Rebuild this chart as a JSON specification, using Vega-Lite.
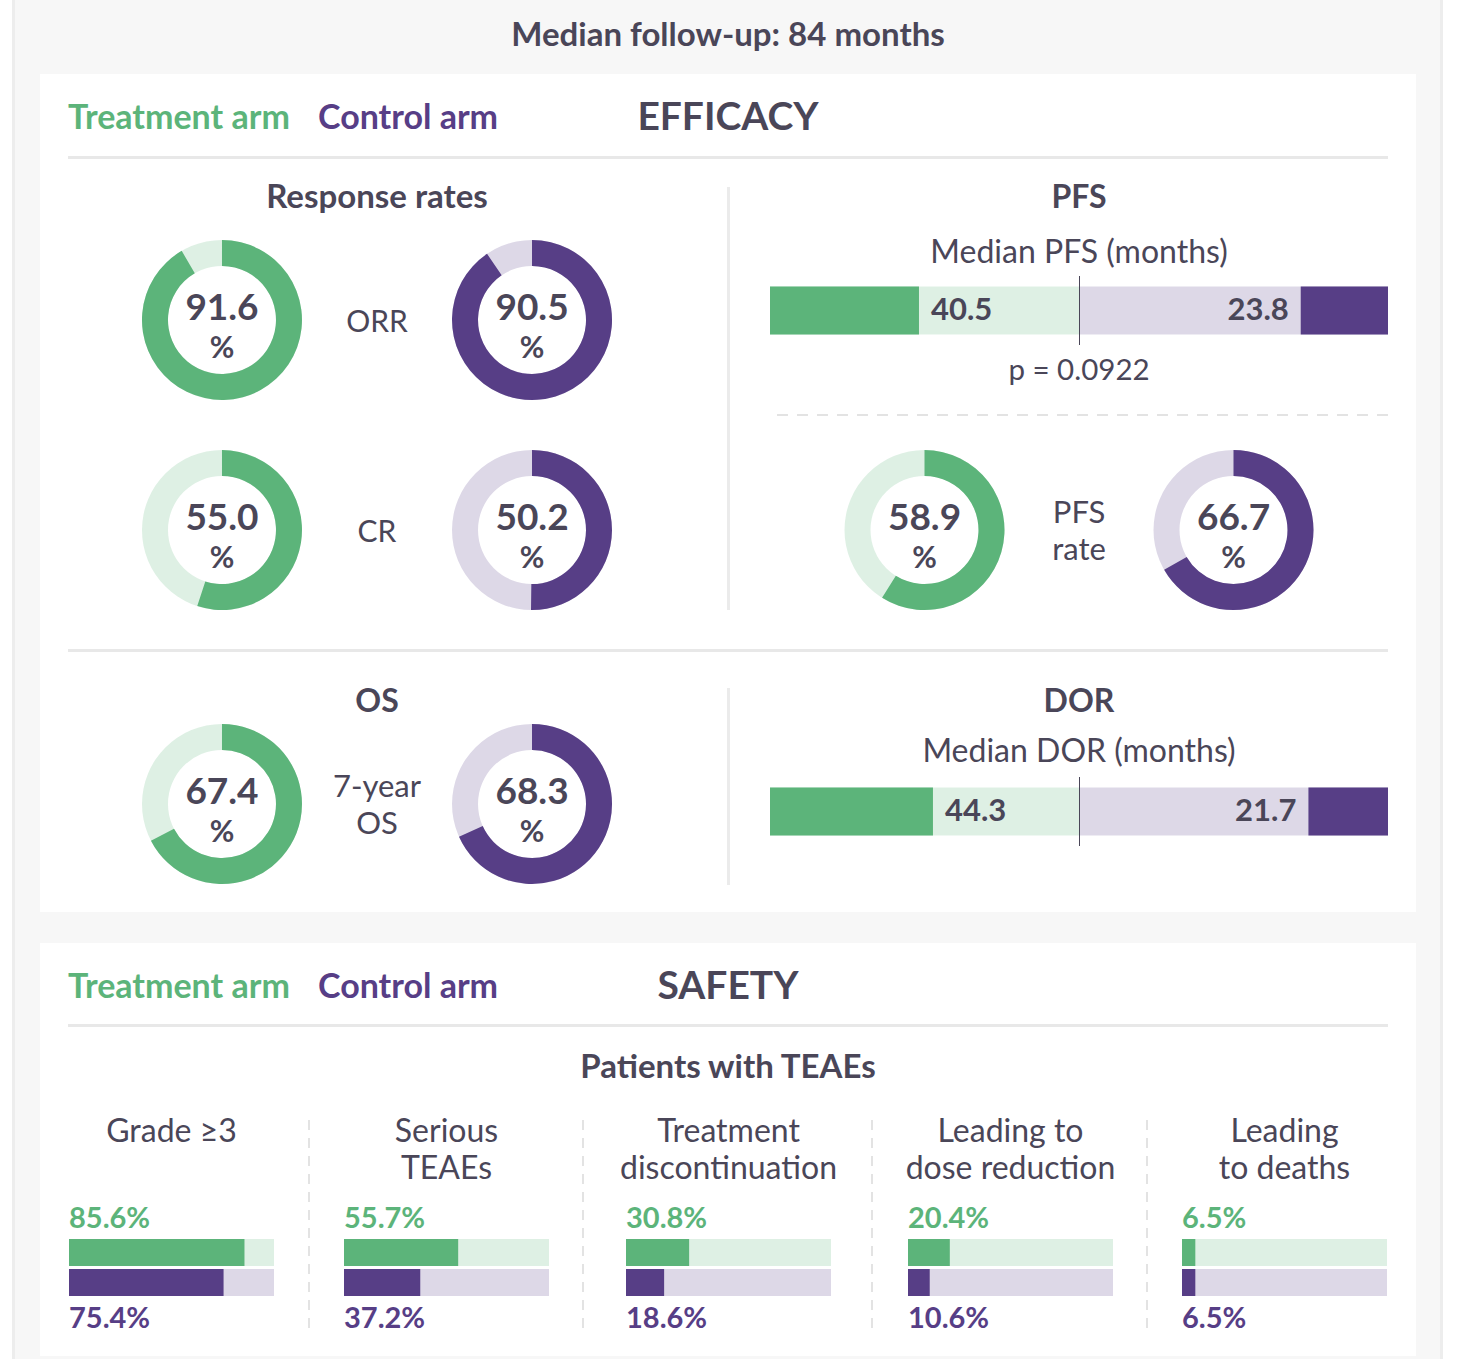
{
  "$schema": "https://vega.github.io/schema/vega-lite/v6.json",
  "background": "white",
  "padding": {"left": 12, "right": 19, "top": 0, "bottom": 0},
  "config": {
    "font": "Lato",
    "view": {"stroke": null},
    "text": {"color": "#4a4658", "fontSize": 32}
  },
  "spacing": 0,
  "hconcat": [
    {"width": 3, "height": 1359, "view": {"fill": "#ededed"}, "data": {"values": [{"part": "frame edge"}]}, "mark": {"type": "rect", "color": "#ededed"}},
    {"width": 25, "height": 1359, "view": {"fill": "#f7f7f7"}, "data": {"values": [{"part": "frame"}]}, "mark": {"type": "rect", "color": "#f7f7f7"}},
    {"spacing": 0, "vconcat": [
      {"width": 1376, "height": 74, "view": {"fill": "#f7f7f7"}, "data": {"values": [{"headline": "Median follow-up: 84 months"}]}, "mark": {"type": "text", "fontSize": 33, "fontWeight": "bold", "dy": -1}, "encoding": {"text": {"field": "headline"}}},
      {"spacing": 0, "vconcat": [
        {"width": 1376, "height": 82, "layer": [
          {"data": {"values": [{"arm": "Treatment arm"}, {"arm": "Control arm"}]},
           "mark": {"type": "text", "align": "left", "fontSize": 34, "fontWeight": "bold", "dy": 4},
           "encoding": {
             "x": {"field": "arm", "type": "nominal", "scale": {"type": "point", "domain": ["Treatment arm", "Control arm"], "range": [28, 278], "padding": 0}, "axis": null},
             "text": {"field": "arm"},
             "color": {"field": "arm", "type": "nominal", "scale": {"domain": ["Treatment arm", "Control arm"], "range": ["#5cb47a", "#573e86"]}, "legend": null}}},
          {"data": {"values": [{"section": "EFFICACY"}]}, "mark": {"type": "text", "fontSize": 39, "fontWeight": "bold", "dy": 3}, "encoding": {"text": {"field": "section"}}}
        ]},
        {"width": 1376, "height": 3, "data": {"values": [{"divider": "efficacy header"}]}, "mark": {"type": "rect", "color": "#e8e8e8"}, "encoding": {"x": {"field": "divider", "type": "nominal", "scale": {"type": "band", "range": [28, 1348], "paddingInner": 0, "paddingOuter": 0}, "axis": null}}},
        {"spacing": 40, "hconcat": [
          {"spacing": 13, "hconcat": [
            {"spacing": 0, "vconcat": [
              {"width": 674, "height": 78, "data": {"values": [{"panel": "Response rates"}]}, "mark": {"type": "text", "fontSize": 33, "fontWeight": "bold"}, "encoding": {"text": {"field": "panel"}}},
              {"width": 674, "height": 376,
               "data": {"values": [
                 {"measure": "ORR", "arm": "Treatment arm", "pct": 91.6},
                 {"measure": "ORR", "arm": "Control arm", "pct": 90.5},
                 {"measure": "CR", "arm": "Treatment arm", "pct": 55.0},
                 {"measure": "CR", "arm": "Control arm", "pct": 50.2}]},
               "layer": [
                 {"mark": {"type": "arc", "radius": 80, "radius2": 54, "theta": 0, "theta2": 6.2832, "opacity": 0.2},
                  "encoding": {
                    "x": {"field": "arm", "type": "nominal", "scale": {"type": "point", "domain": ["Treatment arm", "Control arm"], "padding": 0.587}, "axis": null},
                    "y": {"field": "measure", "type": "nominal", "scale": {"type": "point", "domain": ["ORR", "CR"], "padding": 0.395}, "axis": null},
                    "color": {"field": "arm", "type": "nominal", "scale": {"domain": ["Treatment arm", "Control arm"], "range": ["#5cb47a", "#573e86"]}, "legend": null}}},
                 {"mark": {"type": "arc", "radius": 80, "radius2": 54},
                  "encoding": {
                    "x": {"field": "arm", "type": "nominal"},
                    "y": {"field": "measure", "type": "nominal"},
                    "color": {"field": "arm", "type": "nominal", "scale": {"domain": ["Treatment arm", "Control arm"], "range": ["#5cb47a", "#573e86"]}, "legend": null},
                    "theta": {"field": "pct", "type": "quantitative", "stack": null, "scale": {"domain": [0, 100]}},
                    "theta2": {"datum": 0}}},
                 {"mark": {"type": "text", "fontSize": 37, "fontWeight": "bold", "dy": -11.1},
                  "encoding": {"x": {"field": "arm", "type": "nominal"}, "y": {"field": "measure", "type": "nominal"}, "text": {"field": "pct", "type": "quantitative", "format": ".1f"}}},
                 {"mark": {"type": "text", "fontSize": 30, "fontWeight": "bold", "dy": 29},
                  "encoding": {"x": {"field": "arm", "type": "nominal"}, "y": {"field": "measure", "type": "nominal"}, "text": {"value": "%"}}},
                 {"data": {"values": [{"measure": "ORR", "label": "ORR"}, {"measure": "CR", "label": "CR"}]},
                  "mark": {"type": "text", "fontSize": 30, "dy": 3},
                  "encoding": {"y": {"field": "measure", "type": "nominal"}, "text": {"field": "label"}}}
               ]}
            ]},
            {"spacing": 0, "vconcat": [
              {"width": 3, "height": 28, "data": {"values": [{"part": "spacer"}]}, "mark": {"type": "rect", "opacity": 0}},
              {"width": 3, "height": 423, "view": {"fill": "#ebebeb"}, "data": {"values": [{"divider": "efficacy columns top"}]}, "mark": {"type": "rect", "color": "#ebebeb"}}
            ]}
          ]},
          {"spacing": 0, "vconcat": [
            {"width": 618, "height": 74, "data": {"values": [{"panel": "PFS"}]}, "mark": {"type": "text", "fontSize": 32, "fontWeight": "bold", "dy": 2}, "encoding": {"text": {"field": "panel"}}},
            {"width": 618, "height": 43, "data": {"values": [{"caption": "Median PFS (months)"}]}, "mark": {"type": "text", "fontSize": 32, "dy": -1.5}, "encoding": {"text": {"field": "caption"}}},
            {"spacing": 0, "hconcat": [
              {"width": 309, "height": 69,
               "data": {"values": [{"endpoint": "PFS", "arm": "Treatment arm", "median": 40.5, "followup": 84}]},
               "layer": [
                 {"mark": {"type": "bar", "opacity": 0.2},
                  "encoding": {
                    "x": {"field": "followup", "type": "quantitative", "scale": {"domain": [0, 84], "nice": false}, "axis": null},
                    "y": {"field": "endpoint", "type": "nominal", "scale": {"type": "band", "paddingInner": 0, "paddingOuter": 0.21875}, "axis": null},
                    "color": {"field": "arm", "type": "nominal", "scale": {"domain": ["Treatment arm", "Control arm"], "range": ["#5cb47a", "#573e86"]}, "legend": null}}},
                 {"mark": {"type": "bar"},
                  "encoding": {"x": {"field": "median", "type": "quantitative"}, "y": {"field": "endpoint", "type": "nominal"},
                    "color": {"field": "arm", "type": "nominal", "scale": {"domain": ["Treatment arm", "Control arm"], "range": ["#5cb47a", "#573e86"]}, "legend": null}}},
                 {"mark": {"type": "text", "align": "left", "dx": 12, "fontSize": 31, "fontWeight": "bold"},
                  "encoding": {"x": {"field": "median", "type": "quantitative"}, "y": {"field": "endpoint", "type": "nominal"}, "text": {"field": "median", "type": "quantitative", "format": ".1f"}}}
               ]},
              {"width": 1, "height": 69, "data": {"values": [{"marker": "PFS follow-up split"}]}, "mark": {"type": "rect", "color": "#4a4658"}},
              {"width": 308, "height": 69,
               "data": {"values": [{"endpoint": "PFS", "arm": "Control arm", "median": 23.8, "followup": 84}]},
               "layer": [
                 {"mark": {"type": "bar", "opacity": 0.2},
                  "encoding": {
                    "x": {"field": "followup", "type": "quantitative", "scale": {"domain": [0, 84], "nice": false, "reverse": true}, "axis": null},
                    "y": {"field": "endpoint", "type": "nominal", "scale": {"type": "band", "paddingInner": 0, "paddingOuter": 0.21875}, "axis": null},
                    "color": {"field": "arm", "type": "nominal", "scale": {"domain": ["Treatment arm", "Control arm"], "range": ["#5cb47a", "#573e86"]}, "legend": null}}},
                 {"mark": {"type": "bar"},
                  "encoding": {"x": {"field": "median", "type": "quantitative"}, "y": {"field": "endpoint", "type": "nominal"},
                    "color": {"field": "arm", "type": "nominal", "scale": {"domain": ["Treatment arm", "Control arm"], "range": ["#5cb47a", "#573e86"]}, "legend": null}}},
                 {"mark": {"type": "text", "align": "right", "dx": -12, "fontSize": 31, "fontWeight": "bold"},
                  "encoding": {"x": {"field": "median", "type": "quantitative"}, "y": {"field": "endpoint", "type": "nominal"}, "text": {"field": "median", "type": "quantitative", "format": ".1f"}}}
               ]}
            ]},
            {"width": 618, "height": 52, "data": {"values": [{"note": "p = 0.0922"}]}, "mark": {"type": "text", "fontSize": 29.5}, "encoding": {"text": {"field": "note"}}},
            {"width": 618, "height": 36, "data": {"values": [{"divider": "PFS rate"}]}, "mark": {"type": "rule", "color": "#e3e3e3", "strokeWidth": 2, "strokeDash": [11, 9], "clip": true}, "encoding": {"y": {"field": "divider", "type": "nominal", "scale": {"type": "point"}, "axis": null}}},
            {"width": 618, "height": 194,
             "data": {"values": [
               {"measure": "PFS rate", "arm": "Treatment arm", "pct": 58.9},
               {"measure": "PFS rate", "arm": "Control arm", "pct": 66.7}]},
             "layer": [
               {"mark": {"type": "arc", "radius": 80, "radius2": 54, "theta": 0, "theta2": 6.2832, "opacity": 0.2},
                "encoding": {
                  "x": {"field": "arm", "type": "nominal", "scale": {"type": "point", "domain": ["Treatment arm", "Control arm"], "padding": 0.5}, "axis": null},
                  "color": {"field": "arm", "type": "nominal", "scale": {"domain": ["Treatment arm", "Control arm"], "range": ["#5cb47a", "#573e86"]}, "legend": null}}},
               {"mark": {"type": "arc", "radius": 80, "radius2": 54},
                "encoding": {
                  "x": {"field": "arm", "type": "nominal"},
                  "color": {"field": "arm", "type": "nominal", "scale": {"domain": ["Treatment arm", "Control arm"], "range": ["#5cb47a", "#573e86"]}, "legend": null},
                  "theta": {"field": "pct", "type": "quantitative", "stack": null, "scale": {"domain": [0, 100]}},
                  "theta2": {"datum": 0}}},
               {"mark": {"type": "text", "fontSize": 37, "fontWeight": "bold", "dy": -11.1},
                "encoding": {"x": {"field": "arm", "type": "nominal"}, "text": {"field": "pct", "type": "quantitative", "format": ".1f"}}},
               {"mark": {"type": "text", "fontSize": 30, "fontWeight": "bold", "dy": 29},
                "encoding": {"x": {"field": "arm", "type": "nominal"}, "text": {"value": "%"}}},
               {"data": {"values": [{"label": "PFS\nrate"}]},
                "mark": {"type": "text", "fontSize": 31, "lineBreak": "\n", "lineHeight": 37, "dy": -16.5},
                "encoding": {"text": {"field": "label"}}}
             ]}
          ]}
        ]},
        {"width": 1, "height": 22, "data": {"values": [{"part": "spacer"}]}, "mark": {"type": "rect", "opacity": 0}},
        {"width": 1376, "height": 3, "data": {"values": [{"divider": "efficacy rows"}]}, "mark": {"type": "rect", "color": "#e8e8e8"}, "encoding": {"x": {"field": "divider", "type": "nominal", "scale": {"type": "band", "range": [28, 1348], "paddingInner": 0, "paddingOuter": 0}, "axis": null}}},
        {"spacing": 40, "hconcat": [
          {"spacing": 13, "hconcat": [
            {"spacing": 0, "vconcat": [
              {"width": 674, "height": 72, "data": {"values": [{"panel": "OS"}]}, "mark": {"type": "text", "fontSize": 32, "fontWeight": "bold", "dy": 14}, "encoding": {"text": {"field": "panel"}}},
              {"width": 674, "height": 160,
               "data": {"values": [
                 {"measure": "7-year OS", "arm": "Treatment arm", "pct": 67.4},
                 {"measure": "7-year OS", "arm": "Control arm", "pct": 68.3}]},
               "layer": [
                 {"mark": {"type": "arc", "radius": 80, "radius2": 54, "theta": 0, "theta2": 6.2832, "opacity": 0.2},
                  "encoding": {
                    "x": {"field": "arm", "type": "nominal", "scale": {"type": "point", "domain": ["Treatment arm", "Control arm"], "padding": 0.587}, "axis": null},
                    "color": {"field": "arm", "type": "nominal", "scale": {"domain": ["Treatment arm", "Control arm"], "range": ["#5cb47a", "#573e86"]}, "legend": null}}},
                 {"mark": {"type": "arc", "radius": 80, "radius2": 54},
                  "encoding": {
                    "x": {"field": "arm", "type": "nominal"},
                    "color": {"field": "arm", "type": "nominal", "scale": {"domain": ["Treatment arm", "Control arm"], "range": ["#5cb47a", "#573e86"]}, "legend": null},
                    "theta": {"field": "pct", "type": "quantitative", "stack": null, "scale": {"domain": [0, 100]}},
                    "theta2": {"datum": 0}}},
                 {"mark": {"type": "text", "fontSize": 37, "fontWeight": "bold", "dy": -11.1},
                  "encoding": {"x": {"field": "arm", "type": "nominal"}, "text": {"field": "pct", "type": "quantitative", "format": ".1f"}}},
                 {"mark": {"type": "text", "fontSize": 30, "fontWeight": "bold", "dy": 29},
                  "encoding": {"x": {"field": "arm", "type": "nominal"}, "text": {"value": "%"}}},
                 {"data": {"values": [{"label": "7-year\nOS"}]},
                  "mark": {"type": "text", "fontSize": 31, "lineBreak": "\n", "lineHeight": 37, "dy": -16.5},
                  "encoding": {"text": {"field": "label"}}}
               ]}
            ]},
            {"spacing": 0, "vconcat": [
              {"width": 3, "height": 36, "data": {"values": [{"part": "spacer"}]}, "mark": {"type": "rect", "opacity": 0}},
              {"width": 3, "height": 197, "view": {"fill": "#ebebeb"}, "data": {"values": [{"divider": "efficacy columns bottom"}]}, "mark": {"type": "rect", "color": "#ebebeb"}}
            ]}
          ]},
          {"spacing": 0, "vconcat": [
            {"width": 618, "height": 74, "data": {"values": [{"panel": "DOR"}]}, "mark": {"type": "text", "fontSize": 32, "fontWeight": "bold", "dy": 13}, "encoding": {"text": {"field": "panel"}}},
            {"width": 618, "height": 51, "data": {"values": [{"caption": "Median DOR (months)"}]}, "mark": {"type": "text", "fontSize": 32, "dy": 0.5}, "encoding": {"text": {"field": "caption"}}},
            {"spacing": 0, "hconcat": [
              {"width": 309, "height": 69,
               "data": {"values": [{"endpoint": "DOR", "arm": "Treatment arm", "median": 44.3, "followup": 84}]},
               "layer": [
                 {"mark": {"type": "bar", "opacity": 0.2},
                  "encoding": {
                    "x": {"field": "followup", "type": "quantitative", "scale": {"domain": [0, 84], "nice": false}, "axis": null},
                    "y": {"field": "endpoint", "type": "nominal", "scale": {"type": "band", "paddingInner": 0, "paddingOuter": 0.21875}, "axis": null},
                    "color": {"field": "arm", "type": "nominal", "scale": {"domain": ["Treatment arm", "Control arm"], "range": ["#5cb47a", "#573e86"]}, "legend": null}}},
                 {"mark": {"type": "bar"},
                  "encoding": {"x": {"field": "median", "type": "quantitative"}, "y": {"field": "endpoint", "type": "nominal"},
                    "color": {"field": "arm", "type": "nominal", "scale": {"domain": ["Treatment arm", "Control arm"], "range": ["#5cb47a", "#573e86"]}, "legend": null}}},
                 {"mark": {"type": "text", "align": "left", "dx": 12, "fontSize": 31, "fontWeight": "bold"},
                  "encoding": {"x": {"field": "median", "type": "quantitative"}, "y": {"field": "endpoint", "type": "nominal"}, "text": {"field": "median", "type": "quantitative", "format": ".1f"}}}
               ]},
              {"width": 1, "height": 69, "data": {"values": [{"marker": "DOR follow-up split"}]}, "mark": {"type": "rect", "color": "#4a4658"}},
              {"width": 308, "height": 69,
               "data": {"values": [{"endpoint": "DOR", "arm": "Control arm", "median": 21.7, "followup": 84}]},
               "layer": [
                 {"mark": {"type": "bar", "opacity": 0.2},
                  "encoding": {
                    "x": {"field": "followup", "type": "quantitative", "scale": {"domain": [0, 84], "nice": false, "reverse": true}, "axis": null},
                    "y": {"field": "endpoint", "type": "nominal", "scale": {"type": "band", "paddingInner": 0, "paddingOuter": 0.21875}, "axis": null},
                    "color": {"field": "arm", "type": "nominal", "scale": {"domain": ["Treatment arm", "Control arm"], "range": ["#5cb47a", "#573e86"]}, "legend": null}}},
                 {"mark": {"type": "bar"},
                  "encoding": {"x": {"field": "median", "type": "quantitative"}, "y": {"field": "endpoint", "type": "nominal"},
                    "color": {"field": "arm", "type": "nominal", "scale": {"domain": ["Treatment arm", "Control arm"], "range": ["#5cb47a", "#573e86"]}, "legend": null}}},
                 {"mark": {"type": "text", "align": "right", "dx": -12, "fontSize": 31, "fontWeight": "bold"},
                  "encoding": {"x": {"field": "median", "type": "quantitative"}, "y": {"field": "endpoint", "type": "nominal"}, "text": {"field": "median", "type": "quantitative", "format": ".1f"}}}
               ]}
            ]}
          ]}
        ]},
        {"width": 1, "height": 27, "data": {"values": [{"part": "spacer"}]}, "mark": {"type": "rect", "opacity": 0}}
      ]},
      {"width": 1376, "height": 31, "view": {"fill": "#f7f7f7"}, "data": {"values": [{"part": "gap"}]}, "mark": {"type": "rect", "color": "#f7f7f7"}},
      {"spacing": 0, "vconcat": [
        {"width": 1376, "height": 81, "layer": [
          {"data": {"values": [{"arm": "Treatment arm"}, {"arm": "Control arm"}]},
           "mark": {"type": "text", "align": "left", "fontSize": 34, "fontWeight": "bold", "dy": 4},
           "encoding": {
             "x": {"field": "arm", "type": "nominal", "scale": {"type": "point", "domain": ["Treatment arm", "Control arm"], "range": [28, 278], "padding": 0}, "axis": null},
             "text": {"field": "arm"},
             "color": {"field": "arm", "type": "nominal", "scale": {"domain": ["Treatment arm", "Control arm"], "range": ["#5cb47a", "#573e86"]}, "legend": null}}},
          {"data": {"values": [{"section": "SAFETY"}]}, "mark": {"type": "text", "fontSize": 39, "fontWeight": "bold", "dy": 3}, "encoding": {"text": {"field": "section"}}}
        ]},
        {"width": 1376, "height": 3, "data": {"values": [{"divider": "safety header"}]}, "mark": {"type": "rect", "color": "#e8e8e8"}, "encoding": {"x": {"field": "divider", "type": "nominal", "scale": {"type": "band", "range": [28, 1348], "paddingInner": 0, "paddingOuter": 0}, "axis": null}}},
        {"width": 1376, "height": 78, "data": {"values": [{"panel": "Patients with TEAEs"}]}, "mark": {"type": "text", "fontSize": 33, "fontWeight": "bold", "dy": 2}, "encoding": {"text": {"field": "panel"}}},
        {"spacing": 0, "hconcat": [
          {"spacing": 0, "vconcat": [
            {"width": 268, "height": 98, "data": {"values": [{"event": "Grade ≥3"}]},
             "mark": {"type": "text", "baseline": "top", "fontSize": 32, "lineBreak": "\n", "lineHeight": 37, "dy": -37},
             "encoding": {"x": {"datum": 0.5, "type": "quantitative", "scale": {"domain": [0, 1], "range": [29, 234], "nice": false}, "axis": null}, "text": {"field": "event"}}},
            {"width": 268, "height": 153,
             "data": {"values": [{"event": "Grade ≥3", "arm": "Treatment arm", "rate": 0.856}, {"event": "Grade ≥3", "arm": "Control arm", "rate": 0.754}]},
             "layer": [
               {"mark": {"type": "rect", "opacity": 0.2},
                "encoding": {"x": {"datum": 0, "type": "quantitative", "scale": {"domain": [0, 1], "range": [29, 234], "nice": false}, "axis": null}, "x2": {"datum": 1},
                  "y": {"field": "arm", "type": "nominal", "scale": {"type": "band", "domain": ["Treatment arm", "Control arm"], "range": [36, 93], "paddingInner": 0.1, "paddingOuter": 0}, "axis": null},
                  "color": {"field": "arm", "type": "nominal", "scale": {"domain": ["Treatment arm", "Control arm"], "range": ["#5cb47a", "#573e86"]}, "legend": null}}},
               {"mark": {"type": "bar"},
                "encoding": {"x": {"field": "rate", "type": "quantitative"}, "y": {"field": "arm", "type": "nominal"},
                  "color": {"field": "arm", "type": "nominal", "scale": {"domain": ["Treatment arm", "Control arm"], "range": ["#5cb47a", "#573e86"]}, "legend": null}}},
               {"transform": [{"filter": "datum.arm === 'Treatment arm'"}],
                "mark": {"type": "text", "align": "left", "fontSize": 29, "fontWeight": "bold", "dy": -20},
                "encoding": {"x": {"datum": 0, "type": "quantitative"}, "y": {"field": "arm", "type": "nominal", "bandPosition": 0}, "text": {"field": "rate", "type": "quantitative", "format": ".1%"},
                  "color": {"field": "arm", "type": "nominal", "scale": {"domain": ["Treatment arm", "Control arm"], "range": ["#5cb47a", "#573e86"]}, "legend": null}}},
               {"transform": [{"filter": "datum.arm === 'Control arm'"}],
                "mark": {"type": "text", "align": "left", "fontSize": 29, "fontWeight": "bold", "dy": 23},
                "encoding": {"x": {"datum": 0, "type": "quantitative"}, "y": {"field": "arm", "type": "nominal", "bandPosition": 1}, "text": {"field": "rate", "type": "quantitative", "format": ".1%"},
                  "color": {"field": "arm", "type": "nominal", "scale": {"domain": ["Treatment arm", "Control arm"], "range": ["#5cb47a", "#573e86"]}, "legend": null}}}
             ]}
          ]},
          {"spacing": 0, "vconcat": [
            {"width": 2, "height": 15, "data": {"values": [{"part": "spacer"}]}, "mark": {"type": "rect", "opacity": 0}},
            {"width": 2, "height": 208, "data": {"values": [{"divider": "safety column 1"}]}, "mark": {"type": "rule", "color": "#e3e3e3", "strokeWidth": 2, "strokeDash": [10, 8], "clip": true}, "encoding": {"x": {"field": "divider", "type": "nominal", "scale": {"type": "point"}, "axis": null}}}
          ]},
          {"spacing": 0, "vconcat": [
            {"width": 272, "height": 98, "data": {"values": [{"event": "Serious\nTEAEs"}]},
             "mark": {"type": "text", "baseline": "top", "fontSize": 32, "lineBreak": "\n", "lineHeight": 37, "dy": -37},
             "encoding": {"x": {"datum": 0.5, "type": "quantitative", "scale": {"domain": [0, 1], "range": [34, 239], "nice": false}, "axis": null}, "text": {"field": "event"}}},
            {"width": 272, "height": 153,
             "data": {"values": [{"event": "Serious TEAEs", "arm": "Treatment arm", "rate": 0.557}, {"event": "Serious TEAEs", "arm": "Control arm", "rate": 0.372}]},
             "layer": [
               {"mark": {"type": "rect", "opacity": 0.2},
                "encoding": {"x": {"datum": 0, "type": "quantitative", "scale": {"domain": [0, 1], "range": [34, 239], "nice": false}, "axis": null}, "x2": {"datum": 1},
                  "y": {"field": "arm", "type": "nominal", "scale": {"type": "band", "domain": ["Treatment arm", "Control arm"], "range": [36, 93], "paddingInner": 0.1, "paddingOuter": 0}, "axis": null},
                  "color": {"field": "arm", "type": "nominal", "scale": {"domain": ["Treatment arm", "Control arm"], "range": ["#5cb47a", "#573e86"]}, "legend": null}}},
               {"mark": {"type": "bar"},
                "encoding": {"x": {"field": "rate", "type": "quantitative"}, "y": {"field": "arm", "type": "nominal"},
                  "color": {"field": "arm", "type": "nominal", "scale": {"domain": ["Treatment arm", "Control arm"], "range": ["#5cb47a", "#573e86"]}, "legend": null}}},
               {"transform": [{"filter": "datum.arm === 'Treatment arm'"}],
                "mark": {"type": "text", "align": "left", "fontSize": 29, "fontWeight": "bold", "dy": -20},
                "encoding": {"x": {"datum": 0, "type": "quantitative"}, "y": {"field": "arm", "type": "nominal", "bandPosition": 0}, "text": {"field": "rate", "type": "quantitative", "format": ".1%"},
                  "color": {"field": "arm", "type": "nominal", "scale": {"domain": ["Treatment arm", "Control arm"], "range": ["#5cb47a", "#573e86"]}, "legend": null}}},
               {"transform": [{"filter": "datum.arm === 'Control arm'"}],
                "mark": {"type": "text", "align": "left", "fontSize": 29, "fontWeight": "bold", "dy": 23},
                "encoding": {"x": {"datum": 0, "type": "quantitative"}, "y": {"field": "arm", "type": "nominal", "bandPosition": 1}, "text": {"field": "rate", "type": "quantitative", "format": ".1%"},
                  "color": {"field": "arm", "type": "nominal", "scale": {"domain": ["Treatment arm", "Control arm"], "range": ["#5cb47a", "#573e86"]}, "legend": null}}}
             ]}
          ]},
          {"spacing": 0, "vconcat": [
            {"width": 2, "height": 15, "data": {"values": [{"part": "spacer"}]}, "mark": {"type": "rect", "opacity": 0}},
            {"width": 2, "height": 208, "data": {"values": [{"divider": "safety column 2"}]}, "mark": {"type": "rule", "color": "#e3e3e3", "strokeWidth": 2, "strokeDash": [10, 8], "clip": true}, "encoding": {"x": {"field": "divider", "type": "nominal", "scale": {"type": "point"}, "axis": null}}}
          ]},
          {"spacing": 0, "vconcat": [
            {"width": 287, "height": 98, "data": {"values": [{"event": "Treatment\ndiscontinuation"}]},
             "mark": {"type": "text", "baseline": "top", "fontSize": 32, "lineBreak": "\n", "lineHeight": 37, "dy": -37},
             "encoding": {"x": {"datum": 0.5, "type": "quantitative", "scale": {"domain": [0, 1], "range": [42, 247], "nice": false}, "axis": null}, "text": {"field": "event"}}},
            {"width": 287, "height": 153,
             "data": {"values": [{"event": "Treatment discontinuation", "arm": "Treatment arm", "rate": 0.308}, {"event": "Treatment discontinuation", "arm": "Control arm", "rate": 0.186}]},
             "layer": [
               {"mark": {"type": "rect", "opacity": 0.2},
                "encoding": {"x": {"datum": 0, "type": "quantitative", "scale": {"domain": [0, 1], "range": [42, 247], "nice": false}, "axis": null}, "x2": {"datum": 1},
                  "y": {"field": "arm", "type": "nominal", "scale": {"type": "band", "domain": ["Treatment arm", "Control arm"], "range": [36, 93], "paddingInner": 0.1, "paddingOuter": 0}, "axis": null},
                  "color": {"field": "arm", "type": "nominal", "scale": {"domain": ["Treatment arm", "Control arm"], "range": ["#5cb47a", "#573e86"]}, "legend": null}}},
               {"mark": {"type": "bar"},
                "encoding": {"x": {"field": "rate", "type": "quantitative"}, "y": {"field": "arm", "type": "nominal"},
                  "color": {"field": "arm", "type": "nominal", "scale": {"domain": ["Treatment arm", "Control arm"], "range": ["#5cb47a", "#573e86"]}, "legend": null}}},
               {"transform": [{"filter": "datum.arm === 'Treatment arm'"}],
                "mark": {"type": "text", "align": "left", "fontSize": 29, "fontWeight": "bold", "dy": -20},
                "encoding": {"x": {"datum": 0, "type": "quantitative"}, "y": {"field": "arm", "type": "nominal", "bandPosition": 0}, "text": {"field": "rate", "type": "quantitative", "format": ".1%"},
                  "color": {"field": "arm", "type": "nominal", "scale": {"domain": ["Treatment arm", "Control arm"], "range": ["#5cb47a", "#573e86"]}, "legend": null}}},
               {"transform": [{"filter": "datum.arm === 'Control arm'"}],
                "mark": {"type": "text", "align": "left", "fontSize": 29, "fontWeight": "bold", "dy": 23},
                "encoding": {"x": {"datum": 0, "type": "quantitative"}, "y": {"field": "arm", "type": "nominal", "bandPosition": 1}, "text": {"field": "rate", "type": "quantitative", "format": ".1%"},
                  "color": {"field": "arm", "type": "nominal", "scale": {"domain": ["Treatment arm", "Control arm"], "range": ["#5cb47a", "#573e86"]}, "legend": null}}}
             ]}
          ]},
          {"spacing": 0, "vconcat": [
            {"width": 2, "height": 15, "data": {"values": [{"part": "spacer"}]}, "mark": {"type": "rect", "opacity": 0}},
            {"width": 2, "height": 208, "data": {"values": [{"divider": "safety column 3"}]}, "mark": {"type": "rule", "color": "#e3e3e3", "strokeWidth": 2, "strokeDash": [10, 8], "clip": true}, "encoding": {"x": {"field": "divider", "type": "nominal", "scale": {"type": "point"}, "axis": null}}}
          ]},
          {"spacing": 0, "vconcat": [
            {"width": 273, "height": 98, "data": {"values": [{"event": "Leading to\ndose reduction"}]},
             "mark": {"type": "text", "baseline": "top", "fontSize": 32, "lineBreak": "\n", "lineHeight": 37, "dy": -37},
             "encoding": {"x": {"datum": 0.5, "type": "quantitative", "scale": {"domain": [0, 1], "range": [35, 240], "nice": false}, "axis": null}, "text": {"field": "event"}}},
            {"width": 273, "height": 153,
             "data": {"values": [{"event": "Leading to dose reduction", "arm": "Treatment arm", "rate": 0.204}, {"event": "Leading to dose reduction", "arm": "Control arm", "rate": 0.106}]},
             "layer": [
               {"mark": {"type": "rect", "opacity": 0.2},
                "encoding": {"x": {"datum": 0, "type": "quantitative", "scale": {"domain": [0, 1], "range": [35, 240], "nice": false}, "axis": null}, "x2": {"datum": 1},
                  "y": {"field": "arm", "type": "nominal", "scale": {"type": "band", "domain": ["Treatment arm", "Control arm"], "range": [36, 93], "paddingInner": 0.1, "paddingOuter": 0}, "axis": null},
                  "color": {"field": "arm", "type": "nominal", "scale": {"domain": ["Treatment arm", "Control arm"], "range": ["#5cb47a", "#573e86"]}, "legend": null}}},
               {"mark": {"type": "bar"},
                "encoding": {"x": {"field": "rate", "type": "quantitative"}, "y": {"field": "arm", "type": "nominal"},
                  "color": {"field": "arm", "type": "nominal", "scale": {"domain": ["Treatment arm", "Control arm"], "range": ["#5cb47a", "#573e86"]}, "legend": null}}},
               {"transform": [{"filter": "datum.arm === 'Treatment arm'"}],
                "mark": {"type": "text", "align": "left", "fontSize": 29, "fontWeight": "bold", "dy": -20},
                "encoding": {"x": {"datum": 0, "type": "quantitative"}, "y": {"field": "arm", "type": "nominal", "bandPosition": 0}, "text": {"field": "rate", "type": "quantitative", "format": ".1%"},
                  "color": {"field": "arm", "type": "nominal", "scale": {"domain": ["Treatment arm", "Control arm"], "range": ["#5cb47a", "#573e86"]}, "legend": null}}},
               {"transform": [{"filter": "datum.arm === 'Control arm'"}],
                "mark": {"type": "text", "align": "left", "fontSize": 29, "fontWeight": "bold", "dy": 23},
                "encoding": {"x": {"datum": 0, "type": "quantitative"}, "y": {"field": "arm", "type": "nominal", "bandPosition": 1}, "text": {"field": "rate", "type": "quantitative", "format": ".1%"},
                  "color": {"field": "arm", "type": "nominal", "scale": {"domain": ["Treatment arm", "Control arm"], "range": ["#5cb47a", "#573e86"]}, "legend": null}}}
             ]}
          ]},
          {"spacing": 0, "vconcat": [
            {"width": 2, "height": 15, "data": {"values": [{"part": "spacer"}]}, "mark": {"type": "rect", "opacity": 0}},
            {"width": 2, "height": 208, "data": {"values": [{"divider": "safety column 4"}]}, "mark": {"type": "rule", "color": "#e3e3e3", "strokeWidth": 2, "strokeDash": [10, 8], "clip": true}, "encoding": {"x": {"field": "divider", "type": "nominal", "scale": {"type": "point"}, "axis": null}}}
          ]},
          {"spacing": 0, "vconcat": [
            {"width": 268, "height": 98, "data": {"values": [{"event": "Leading\nto deaths"}]},
             "mark": {"type": "text", "baseline": "top", "fontSize": 32, "lineBreak": "\n", "lineHeight": 37, "dy": -37},
             "encoding": {"x": {"datum": 0.5, "type": "quantitative", "scale": {"domain": [0, 1], "range": [34, 239], "nice": false}, "axis": null}, "text": {"field": "event"}}},
            {"width": 268, "height": 153,
             "data": {"values": [{"event": "Leading to deaths", "arm": "Treatment arm", "rate": 0.065}, {"event": "Leading to deaths", "arm": "Control arm", "rate": 0.065}]},
             "layer": [
               {"mark": {"type": "rect", "opacity": 0.2},
                "encoding": {"x": {"datum": 0, "type": "quantitative", "scale": {"domain": [0, 1], "range": [34, 239], "nice": false}, "axis": null}, "x2": {"datum": 1},
                  "y": {"field": "arm", "type": "nominal", "scale": {"type": "band", "domain": ["Treatment arm", "Control arm"], "range": [36, 93], "paddingInner": 0.1, "paddingOuter": 0}, "axis": null},
                  "color": {"field": "arm", "type": "nominal", "scale": {"domain": ["Treatment arm", "Control arm"], "range": ["#5cb47a", "#573e86"]}, "legend": null}}},
               {"mark": {"type": "bar"},
                "encoding": {"x": {"field": "rate", "type": "quantitative"}, "y": {"field": "arm", "type": "nominal"},
                  "color": {"field": "arm", "type": "nominal", "scale": {"domain": ["Treatment arm", "Control arm"], "range": ["#5cb47a", "#573e86"]}, "legend": null}}},
               {"transform": [{"filter": "datum.arm === 'Treatment arm'"}],
                "mark": {"type": "text", "align": "left", "fontSize": 29, "fontWeight": "bold", "dy": -20},
                "encoding": {"x": {"datum": 0, "type": "quantitative"}, "y": {"field": "arm", "type": "nominal", "bandPosition": 0}, "text": {"field": "rate", "type": "quantitative", "format": ".1%"},
                  "color": {"field": "arm", "type": "nominal", "scale": {"domain": ["Treatment arm", "Control arm"], "range": ["#5cb47a", "#573e86"]}, "legend": null}}},
               {"transform": [{"filter": "datum.arm === 'Control arm'"}],
                "mark": {"type": "text", "align": "left", "fontSize": 29, "fontWeight": "bold", "dy": 23},
                "encoding": {"x": {"datum": 0, "type": "quantitative"}, "y": {"field": "arm", "type": "nominal", "bandPosition": 1}, "text": {"field": "rate", "type": "quantitative", "format": ".1%"},
                  "color": {"field": "arm", "type": "nominal", "scale": {"domain": ["Treatment arm", "Control arm"], "range": ["#5cb47a", "#573e86"]}, "legend": null}}}
             ]}
          ]}
        ]}
      ]},
      {"width": 1376, "height": 3, "view": {"fill": "#f7f7f7"}, "data": {"values": [{"part": "bottom"}]}, "mark": {"type": "rect", "color": "#f7f7f7"}}
    ]},
    {"width": 24, "height": 1359, "view": {"fill": "#f7f7f7"}, "data": {"values": [{"part": "frame"}]}, "mark": {"type": "rect", "color": "#f7f7f7"}},
    {"width": 3, "height": 1359, "view": {"fill": "#ededed"}, "data": {"values": [{"part": "frame edge"}]}, "mark": {"type": "rect", "color": "#ededed"}}
  ]
}
